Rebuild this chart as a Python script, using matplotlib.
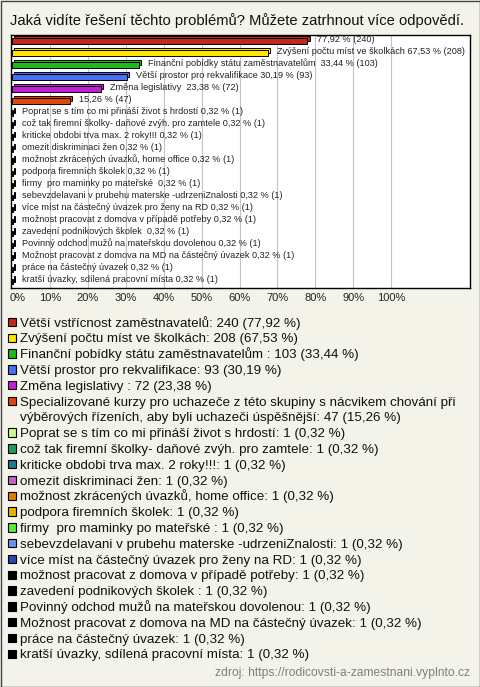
import matplotlib.pyplot as plt
from matplotlib.patches import Rectangle

plt.rcParams['font.family'] = ['Liberation Sans', 'DejaVu Sans']

# answers, counts, percentages
names = [
    "Větší vstřícnost zaměstnavatelů",
    "Zvýšení počtu míst ve školkách",
    "Finanční pobídky státu zaměstnavatelům ",
    "Větší prostor pro rekvalifikace",
    "Změna legislativy ",
    "Specializované kurzy pro uchazeče z této skupiny s nácvikem chování při\nvýběrových řízeních, aby byli uchazeči úspěšnější",
    "Poprat se s tím co mi přináší život s hrdostí",
    "což tak firemní školky- daňové zvýh. pro zamtele",
    "kriticke obdobi trva max. 2 roky!!!",
    "omezit diskriminaci žen",
    "možnost zkrácených úvazků, home office",
    "podpora firemních školek",
    "firmy  pro maminky po mateřské ",
    "sebevzdelavani v prubehu materske -udrzeniZnalosti",
    "více míst na částečný úvazek pro ženy na RD",
    "možnost pracovat z domova v případě potřeby",
    "zavedení podnikových školek ",
    "Povinný odchod mužů na mateřskou dovolenou",
    "Možnost pracovat z domova na MD na částečný úvazek",
    "práce na částečný úvazek",
    "kratší úvazky, sdílená pracovní místa",
]
counts = [240, 208, 103, 93, 72, 47] + [1] * 15
pcts = [77.92, 67.53, 33.44, 30.19, 23.38, 15.26] + [0.32] * 15
show_name = [False, True, True, True, True, False] + [True] * 15
colors = ["#c0281c", "#ffe600", "#1fb81f", "#4a6ff0", "#c21ed2", "#e2440c",
          "#c8f58e", "#1f9a5c", "#1f7a90", "#c266c2", "#e47a0c", "#e6b400",
          "#5ee83a", "#6e92e6", "#2848a8",
          "#000000", "#000000", "#000000", "#000000", "#000000", "#000000"]
ticks = [0, 10, 20, 30, 40, 50, 60, 70, 80, 90, 100]
source = "zdroj: https://rodicovsti-a-zamestnani.vyplnto.cz"


def fmt(v):
    return f"{v:.2f}".replace(".", ",")


W, H = 480, 687
bg = "#f4f3ea"
fig = plt.figure(figsize=(W / 100, H / 100), dpi=100, facecolor=bg)

# overlay in pixel coords for title, legend, border
ov = fig.add_axes([0, 0, 1, 1], zorder=0)
ov.set_xlim(0, W)
ov.set_ylim(H, 0)
ov.axis("off")
ov.add_patch(Rectangle((0.5, 0.5), W - 1, H - 1, fill=False, ec="#444444", lw=1))
ov.text(10, 25, "Jaká vidíte řešení těchto problémů? Můžete zatrhnout více odpovědí.",
        fontsize=10.6, va="baseline", ha="left", color="#111111")

# bar chart
ax = fig.add_axes([11 / W, 1 - 288 / H, 459 / W, 253 / H], zorder=1)
ax.set_facecolor("white")
ax.set_xlim(-0.3, 120.8)
ax.set_ylim(20.58, -0.5)
for t in ticks[1:]:
    ax.axvline(t, color="#c4c4c4", lw=0.8, zorder=0)
ax.set_xticks([])
ax.set_yticks([])
for s in ax.spines.values():
    s.set_color("black")
    s.set_linewidth(1)

ypos = list(range(len(names)))
bh = 0.42
dx, dy = 0.55, -0.17
ax.barh([y + dy for y in ypos], pcts, left=dx, height=bh, color=colors,
        edgecolor="black", linewidth=0.7, zorder=2)
ax.barh(ypos, pcts, height=bh, color=colors, edgecolor="black",
        linewidth=0.7, zorder=3)
for y, n, c, p, sn in zip(ypos, names, counts, pcts, show_name):
    lab = f"{fmt(p)} % ({c})"
    if sn:
        lab = f"{n} {lab}"
    ax.text(p + 2.4, y - 0.12, lab, fontsize=6.6, va="center", ha="left",
            color="#222222", zorder=4, clip_on=False)

for t in ticks:
    xp = 12 + t * 3.79
    ov.text(xp + (6 if t == 0 else 0), 298, f"{t}%", fontsize=8, ha="center",
            va="center", color="#222222")

# legend
line = 0
for n, c, p, col in zip(names, counts, pcts, colors):
    y = 322 + line * 15.8
    ov.add_patch(Rectangle((7.5, y - 4.3), 8.5, 8.5, fc=col, ec="black", lw=0.8))
    txt = f"{n}: {c} ({fmt(p)} %)"
    for part in txt.split("\n"):
        ov.text(20, 322 + line * 15.8 + 4.6, part, fontsize=9.6, ha="left",
                va="baseline", color="#111111")
        line += 1

ov.text(470, 676, source, fontsize=8.7, ha="right", va="baseline", color="#808080")

fig.savefig("out.png", dpi=100, facecolor=bg)
